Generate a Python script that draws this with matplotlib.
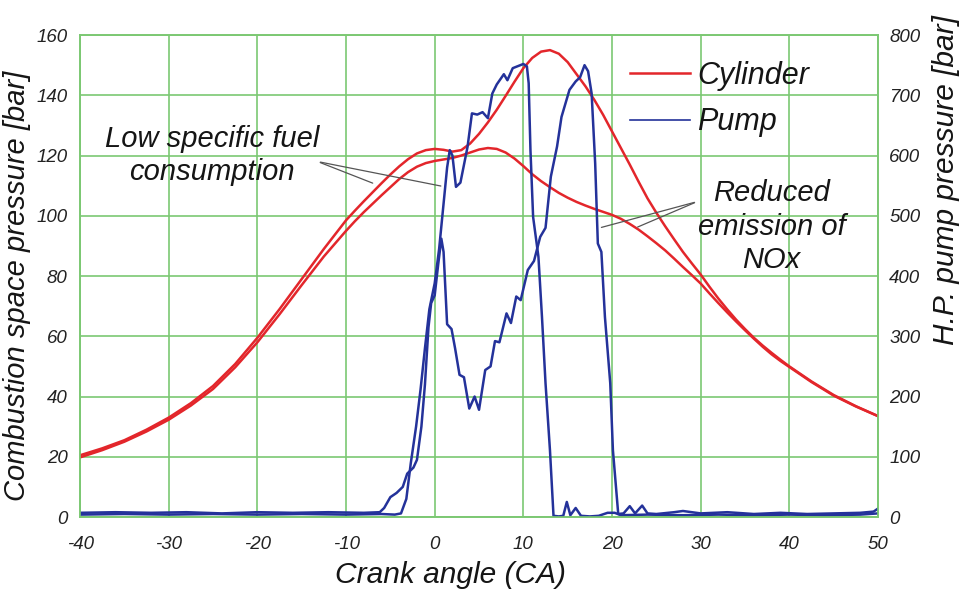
import matplotlib
matplotlib.use("Agg")
import matplotlib.pyplot as plt
from matplotlib.lines import Line2D

plt.rcParams['font.family'] = ['Liberation Sans', 'DejaVu Sans']
plt.rcParams['font.style'] = 'italic'
plt.rcParams['axes.unicode_minus'] = False

# cylinder pressure [bar], left axis
cyl_ca = [-40, -37.5, -35, -32.5, -30, -27.5, -25, -22.5, -20, -17.5, -15, -12.5,
          -10, -9, -8, -7, -6, -5, -4, -3, -2, -1, 0, 1, 2, 3, 4, 5, 6, 7, 8, 9,
          10, 11, 12, 13, 14, 15, 16, 17, 18, 19, 20, 21, 22, 23, 24, 25, 26, 27, 28, 29,
          30, 31, 32, 33, 34, 35, 36, 37, 38, 39, 40, 42.5, 45, 47.5, 50]
cyl_a = [20.5, 22.8, 25.5, 29, 33, 37.8, 43.5, 50.8, 59.5, 69, 79, 89,
         98.5, 101.7, 104.8, 107.8, 110.8, 113.7, 116.4, 118.8, 120.7, 121.8, 122.2, 121.9,
         121.3, 121.8, 124, 127.2, 131, 135.2, 139.8, 144.5,
         149, 152.4, 154.5, 155, 153.8, 151, 147, 143, 138.5, 133.5, 128, 122.5, 117, 111.3,
         105.8, 101, 96.5, 92.2, 88, 84.2,
         80.5, 76.4, 72.5, 68.9, 65.5, 62.4, 59.5, 56.9, 54.5, 52.2, 50, 45, 40.5, 36.8, 33.5]
cyl_b = [19.8, 22.2, 25, 28.4, 32.3, 37, 42.5, 49.7, 58, 67.3, 77, 86.5,
         95, 98.2, 101.2, 104, 106.8, 109.5, 112.2, 114.5, 116.3, 117.5, 118.2, 118.7,
         119.2, 120, 121, 122, 122.5, 122.2, 121, 119,
         116.5, 113.8, 111.5, 109.5, 107.6, 106, 104.6, 103.4, 102.3, 101.3, 100.3, 99, 97.3,
         95.4, 93.2, 90.9, 88.5, 85.8, 83, 80.3,
         77.5, 74.2, 71, 67.9, 64.9, 62, 59.2, 56.5, 54, 51.8, 49.8, 44.8, 40.3, 36.7, 33.5]

# H.P. pump pressure [bar], right axis
pump_a_ca = [-40, -36, -32, -28, -24, -20, -16, -12, -8, -6.2, -5.7, -5.0, -4.3, -3.6, -3.1,
             -2.4, -2.0, -1.5, -1.1, -0.7, -0.4, 0.0, 0.4, 0.75, 1.0, 1.4, 1.9, 2.3, 2.8, 3.3,
             3.9, 4.5, 5.0, 5.7, 6.3, 6.8, 7.3, 8.1, 8.6, 9.2, 9.7, 10.5, 11.2, 11.9, 12.5,
             13.1, 13.8, 14.3, 15.2, 15.9, 16.4, 16.9, 17.3, 17.7, 18.1, 18.4, 18.8, 19.2,
             19.8, 20.1, 20.7, 21.3, 22.0, 22.6, 23.4, 24.0, 25, 27, 28, 30, 33, 36, 39, 42,
             45, 48, 49.5, 50]
pump_a = [7, 8, 7, 8, 6, 8, 7, 8, 7, 8, 15, 33, 40, 50, 72, 82, 95, 150, 220, 315, 355, 368,
          420, 462, 440, 320, 312, 280, 236, 232, 180, 200, 178, 244, 250, 292, 290, 338, 322,
          366, 360, 410, 425, 465, 480, 565, 615, 664, 709, 723, 730, 750, 740, 703, 587, 454,
          440, 332, 222, 111, 5, 6, 18, 6, 19, 6, 5, 8, 10, 6, 8, 5, 7, 5, 6, 7, 9, 14]

pump_b_ca = [-40, -35, -30, -25, -20, -15, -10, -6, -4.5, -3.8, -3.2, -2.7, -2.1, -1.6, -1.1,
             -0.6, 0.0, 0.5, 1.0, 1.4, 1.7, 2.0, 2.4, 2.9, 3.7, 4.2, 4.8, 5.4, 6.0, 6.5, 7.0,
             7.8, 8.2, 8.8, 10.0, 10.4, 10.6, 10.8, 11.1, 11.4, 11.7, 12.1, 12.5, 13.0, 13.4,
             14.0, 14.5, 14.9, 15.3, 15.9, 16.5, 17.5, 18.5, 19.5, 20.3, 21, 24, 28, 32, 36,
             40, 44, 48, 50]
pump_b = [4, 5, 4, 5, 4, 5, 4, 5, 4, 6, 30, 89, 150, 211, 280, 345, 388, 445, 520, 580, 609,
          600, 548, 555, 614, 670, 668, 672, 662, 703, 718, 735, 725, 745, 752, 748, 720, 609,
          498, 465, 432, 332, 222, 111, 2, 1, 2, 25, 3, 15, 2, 1, 2, 7, 7, 3, 4, 3, 4, 3, 4,
          3, 4, 6]

red = '#e3262b'
blue = '#24329a'
grid_green = '#7cc873'
txt = '#151515'

fig = plt.figure(figsize=(9.62, 5.90), dpi=100)
ax = fig.add_axes([0.0832, 0.1237, 0.8295, 0.8169])
ax2 = ax.twinx()

ax.plot(cyl_ca, cyl_a, color=red, lw=1.8, zorder=3)
ax.plot(cyl_ca, cyl_b, color=red, lw=1.8, zorder=3)
ax2.plot(pump_a_ca, pump_a, color=blue, lw=1.8)
ax2.plot(pump_b_ca, pump_b, color=blue, lw=1.8)

ax.set_xlim(-40, 50)
ax.set_ylim(0, 160)
ax2.set_ylim(0, 800)
ax.set_xticks(range(-40, 51, 10))
ax.set_yticks(range(0, 161, 20))
ax2.set_yticks(range(0, 801, 100))
ax.grid(True, color=grid_green, lw=1.2)
ax.set_axisbelow(True)

for a in (ax, ax2):
    a.tick_params(length=0, labelsize=13.5, colors='#222222')
    for s in a.spines.values():
        s.set_color(grid_green)
        s.set_linewidth(1.2)
ax.tick_params(axis='x', pad=14)
ax.tick_params(axis='y', pad=9)
ax2.tick_params(axis='y', pad=8)

ax.set_xlabel('Crank angle (CA)', fontsize=21.5, color=txt)
ax.xaxis.set_label_coords(0.464, -0.092)
ax.set_ylabel('Combustion space pressure [bar]', fontsize=21, color=txt)
ax.yaxis.set_label_coords(-0.061, 0.48)
ax2.set_ylabel('H.P. pump pressure [bar]', fontsize=21.5, rotation=90, color=txt)
ax2.yaxis.set_label_coords(1.068, 0.70)

handles = [Line2D([], [], color=red, lw=1.8), Line2D([], [], color=blue, lw=1.2)]
ax2.legend(handles, ['Cylinder', 'Pump'], loc='upper left', bbox_to_anchor=(0.689, 0.947),
           frameon=False, fontsize=22, handlelength=1.96, labelspacing=0.55,
           handletextpad=0.25, borderpad=0, borderaxespad=0, labelcolor=txt)

# annotations
ax.text(-25.1, 120, 'Low specific fuel\nconsumption', fontsize=21, ha='center', va='center',
        linespacing=1.25, color=txt)
ax.annotate('', xy=(-6.7, 110.5), xytext=(-13.2, 118),
            arrowprops=dict(arrowstyle='-', color='#555555', lw=0.9))
ax.annotate('', xy=(1.0, 109.7), xytext=(-13.2, 118),
            arrowprops=dict(arrowstyle='-', color='#555555', lw=0.9))

ax.text(38, 96.3, 'Reduced\nemission of\nNOx', fontsize=21, ha='center', va='center',
        linespacing=1.25, color=txt)
ax.annotate('', xy=(18.5, 95.9), xytext=(29.6, 104.7),
            arrowprops=dict(arrowstyle='-', color='#555555', lw=0.9))
ax.annotate('', xy=(22.6, 95.9), xytext=(29.6, 104.7),
            arrowprops=dict(arrowstyle='-', color='#555555', lw=0.9))

fig.savefig('out.png', dpi=100)
